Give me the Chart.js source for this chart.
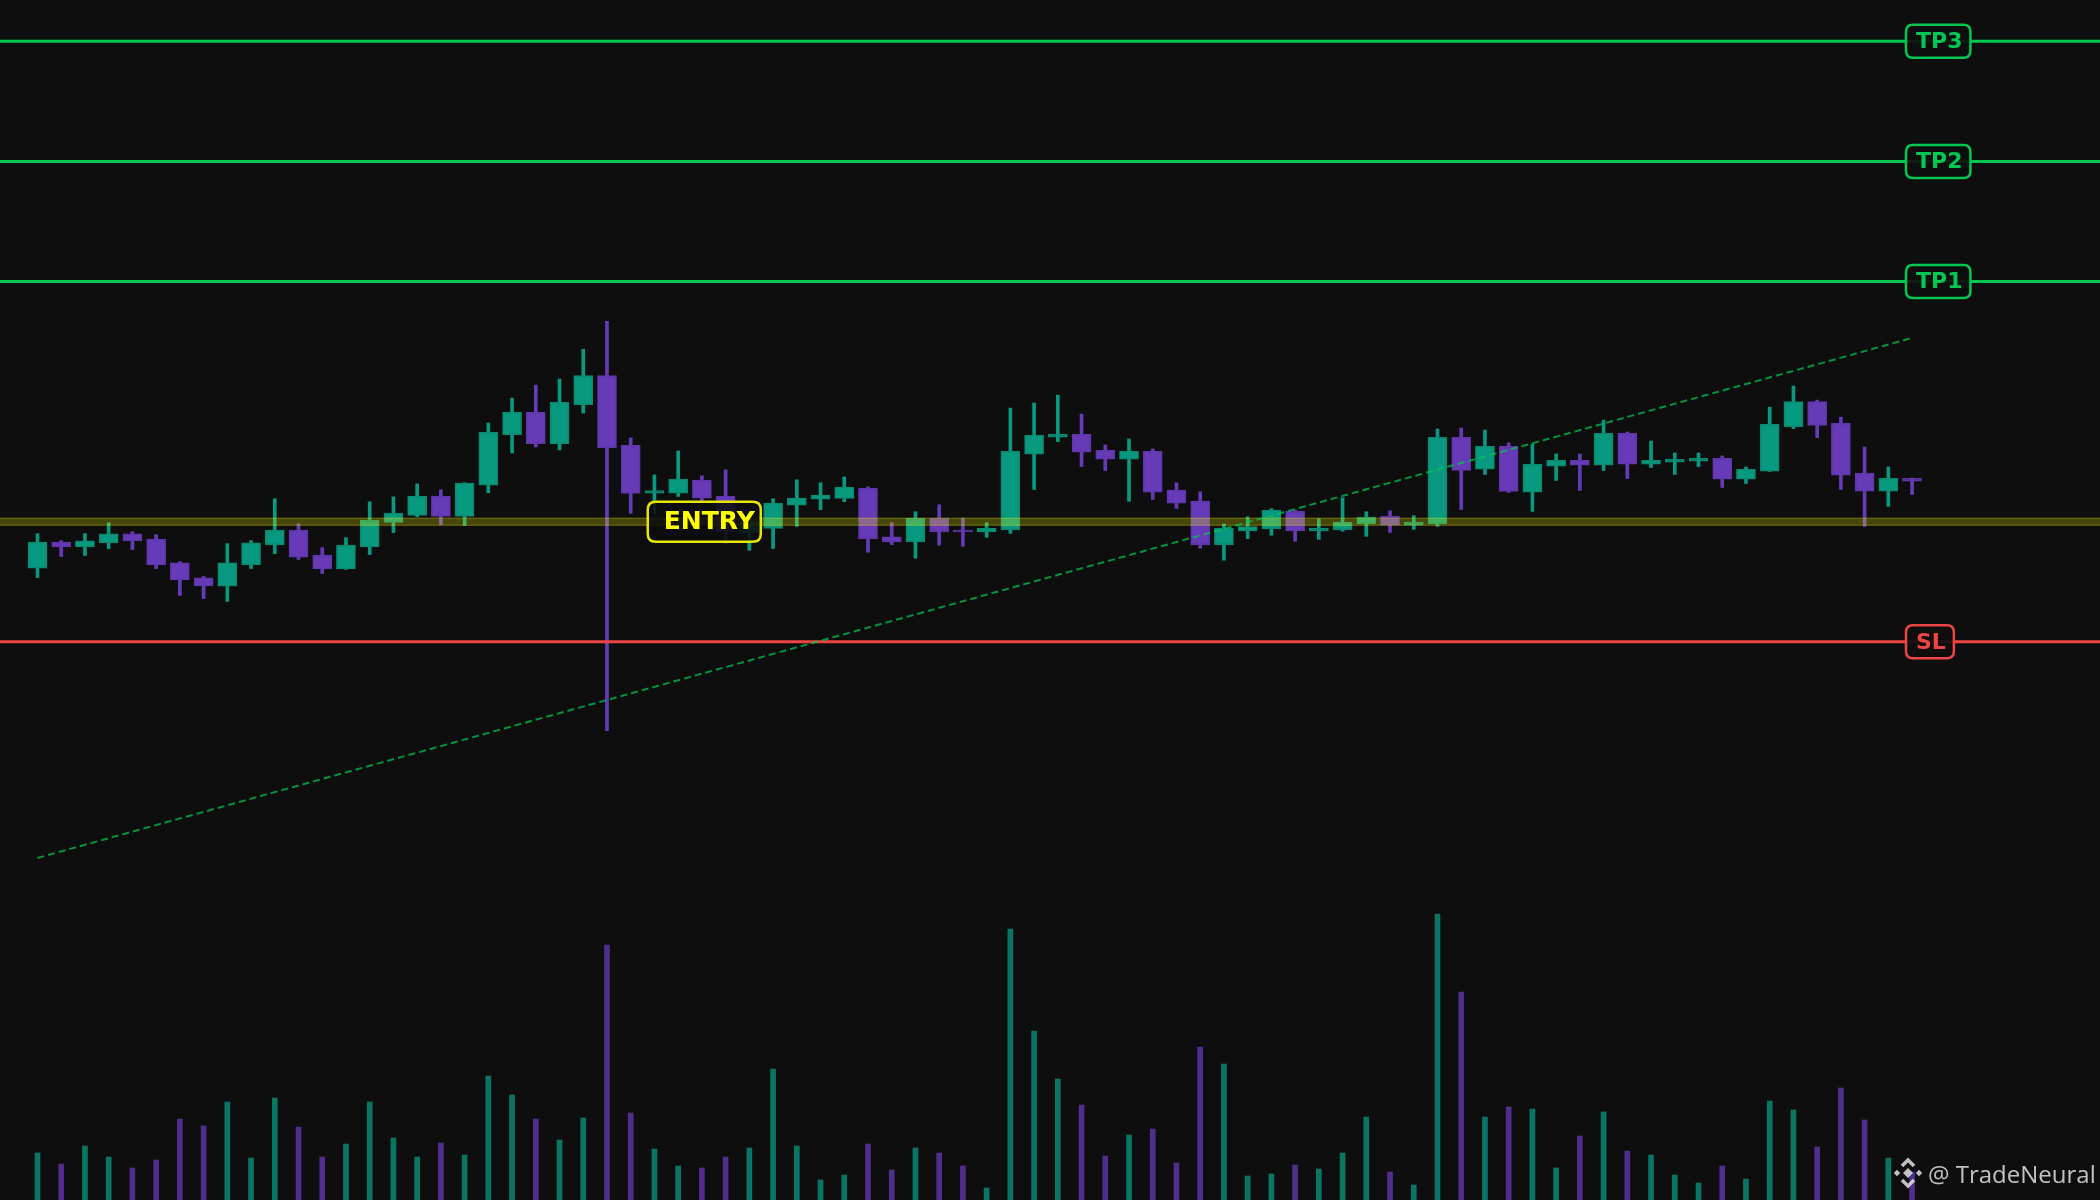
<!DOCTYPE html>
<html lang="en">
<head>
    <meta charset="UTF-8">
    <title>TradeNeural setup</title>
    <script src="https://cdn.jsdelivr.net/npm/chart.js"></script>
    <style>
        html, body { margin: 0; padding: 0; background: #0e0e0e; }
        canvas { display: block; }
    </style>
</head>
<body>
    <canvas id="grafico" width="2100" height="1200"></canvas>

    <script>
        // OHLC, one value per candle
        const opens  = [96.13, 98.31, 97.90, 98.23, 98.98, 98.56, 96.57, 95.33, 94.63, 96.40,
                        98.06, 99.31, 97.23, 96.07, 97.90, 99.94, 100.53, 102.13, 100.44, 103.04,
                        107.25, 109.10, 106.50, 109.74, 112.17, 106.36, 102.38, 102.38, 103.46, 102.13,
                        99.06, 99.45, 101.38, 101.88, 101.94, 102.79, 98.73, 98.31, 100.28, 99.31,
                        99.14, 99.31, 105.62, 107.03, 107.28, 105.95, 105.20, 105.86, 102.63, 101.72,
                        98.06, 99.23, 99.39, 100.89, 99.23, 99.31, 99.81, 100.47, 99.72, 99.81,
                        107.03, 104.37, 106.28, 102.46, 104.62, 105.12, 104.70, 107.36, 104.79, 104.95,
                        105.03, 105.28, 103.54, 104.20, 107.91, 110.01, 108.19, 104.04, 102.54, 103.62];
        const highs  = [99.00, 98.42, 99.00, 99.92, 99.17, 98.92, 96.68, 95.44, 98.17, 98.42,
                        101.91, 99.83, 97.84, 98.67, 101.66, 102.07, 103.15, 102.66, 103.25, 108.22,
                        110.29, 111.37, 111.87, 114.36, 116.68, 106.97, 103.90, 105.89, 103.82, 104.32,
                        100.44, 101.91, 103.49, 103.24, 103.73, 102.90, 99.92, 100.83, 101.41, 100.30,
                        99.92, 109.46, 109.88, 110.54, 108.96, 106.39, 106.89, 106.06, 103.24, 102.49,
                        99.81, 100.41, 101.08, 100.97, 100.25, 101.99, 100.83, 100.91, 100.50, 107.72,
                        107.80, 107.63, 106.56, 106.45, 105.64, 105.64, 108.46, 107.47, 106.72, 105.73,
                        105.73, 105.48, 104.56, 109.54, 111.29, 110.12, 108.71, 106.22, 104.56, 103.62];
        const lows   = [95.35, 97.10, 97.18, 97.76, 97.68, 96.10, 93.86, 93.61, 93.36, 96.10,
                        97.34, 96.85, 95.68, 96.02, 97.26, 99.09, 100.41, 99.75, 99.67, 102.41,
                        105.73, 106.22, 105.98, 109.05, 82.60, 100.69, 100.69, 102.10, 101.69, 98.23,
                        97.62, 97.76, 99.61, 101.00, 101.66, 97.46, 98.09, 96.96, 98.04, 97.95,
                        98.70, 99.03, 102.68, 106.67, 104.59, 104.26, 101.69, 101.85, 101.11, 97.79,
                        96.79, 98.59, 98.87, 98.37, 98.53, 99.20, 98.78, 99.11, 99.36, 99.61,
                        101.02, 103.93, 102.43, 100.86, 103.43, 102.60, 104.26, 103.60, 104.51, 103.93,
                        104.59, 102.85, 103.18, 104.18, 107.75, 107.00, 102.68, 99.61, 101.27, 102.27];
        const closes = [98.31, 97.90, 98.40, 98.98, 98.40, 96.40, 95.16, 94.66, 96.57, 98.23,
                        99.31, 97.04, 96.07, 98.06, 100.14, 100.72, 102.13, 100.44, 103.21, 107.44,
                        109.10, 106.50, 109.93, 112.17, 106.17, 102.35, 102.60, 103.54, 101.96, 99.20,
                        100.03, 101.55, 101.96, 102.21, 102.88, 98.56, 98.31, 100.28, 99.14, 99.14,
                        99.45, 105.86, 107.19, 107.28, 105.78, 105.20, 105.86, 102.46, 101.55, 98.06,
                        99.47, 99.59, 100.97, 99.23, 99.47, 99.97, 100.39, 99.72, 99.97, 107.03,
                        104.26, 106.28, 102.52, 104.79, 105.12, 104.70, 107.36, 104.79, 105.12, 105.20,
                        105.28, 103.54, 104.37, 108.11, 110.01, 108.02, 103.87, 102.54, 103.62, 103.37];
        const volumes = [47, 36, 54, 43, 32, 40, 81, 74, 98, 42,
                         102, 73, 43, 56, 98, 62, 43, 57, 45, 124,
                         105, 81, 60, 82, 255, 87, 51, 34, 32, 43,
                         52, 131, 54, 20, 25, 56, 30, 52, 47, 34,
                         12, 271, 169, 121, 95, 44, 65, 71, 37, 153,
                         136, 24, 26, 35, 31, 47, 83, 28, 15, 286,
                         208, 83, 93, 91, 32, 64, 88, 49, 45, 25,
                         17, 34, 21, 99, 90, 53, 112, 80, 42, 28];

        // niveles de la operación
        const levelNames  = ['TP3', 'TP2', 'TP1', 'SL'];
        const levelPrices = [140, 130, 120, 90];
        const entryPrice = 100;
        const entryLabel = 'ENTRY';
        const entryLabelAt = 28.1;        // candle the ENTRY tag sits on
        const trendX = [0, 79];
        const trendY = [72.0, 115.3];
        const watermark = '@ TradeNeural';

        const X_MIN = -1.58, X_MAX = 86.92;
        const UP = '#089981', DOWN = '#673ab7';
        const TP_COL = '#00c853', SL_COL = '#ef4444', ENTRY_COL = '#ffff00';

        const idx = opens.map((_, i) => i);
        const isUp = i => closes[i] >= opens[i];
        const candleCol = idx.map(i => isUp(i) ? UP : DOWN);
        const candleEdge = idx.map(i => isUp(i) ? '#0b8a72' : '#5f36ab');
        const volCol = idx.map(i => isUp(i) ? 'rgba(8,153,129,0.75)' : 'rgba(103,58,183,0.75)');

        const hLine = (price, color, width, order) => ({
            type: 'line',
            data: [{ x: X_MIN, y: price }, { x: X_MAX, y: price }],
            borderColor: color,
            borderWidth: width,
            pointRadius: 0,
            yAxisID: 'y',
            order: order
        });

        function roundBox(ctx, x, y, w, h, r) {
            ctx.beginPath();
            ctx.moveTo(x + r, y);
            ctx.lineTo(x + w - r, y);
            ctx.quadraticCurveTo(x + w, y, x + w, y + r);
            ctx.lineTo(x + w, y + h - r);
            ctx.quadraticCurveTo(x + w, y + h, x + w - r, y + h);
            ctx.lineTo(x + r, y + h);
            ctx.quadraticCurveTo(x, y + h, x, y + h - r);
            ctx.lineTo(x, y + r);
            ctx.quadraticCurveTo(x, y, x + r, y);
            ctx.closePath();
        }

        function diamond(ctx, cx, cy, s) {
            ctx.beginPath();
            ctx.moveTo(cx, cy - s);
            ctx.lineTo(cx + s, cy);
            ctx.lineTo(cx, cy + s);
            ctx.lineTo(cx - s, cy);
            ctx.closePath();
            ctx.fill();
        }

        // etiquetas TP/SL/ENTRY y marca de agua
        const tags = {
            id: 'tags',
            afterDatasetsDraw(chart) {
                const { ctx, chartArea, scales } = chart;
                const y = scales.y, x = scales.x;
                ctx.save();
                ctx.textAlign = 'center';
                ctx.textBaseline = 'middle';

                ctx.font = 'bold 22px "DejaVu Sans"';
                levelNames.forEach((name, k) => {
                    const py = y.getPixelForValue(levelPrices[k]);
                    const col = levelPrices[k] < entryPrice ? SL_COL : TP_COL;
                    const w = ctx.measureText(name).width + 18;
                    const left = chartArea.left + 1906;
                    roundBox(ctx, left, py - 16.5, w, 33, 7);
                    ctx.fillStyle = 'rgba(14,14,14,0.92)';
                    ctx.fill();
                    ctx.lineWidth = 2.5;
                    ctx.strokeStyle = col;
                    ctx.stroke();
                    ctx.fillStyle = col;
                    ctx.fillText(name, left + w / 2 + 1, py + 1);
                });

                ctx.font = 'bold 25px "DejaVu Sans"';
                const ey = y.getPixelForValue(entryPrice);
                const ecx = x.getPixelForValue(entryLabelAt);
                const ew = ctx.measureText(entryLabel).width + 22;
                roundBox(ctx, ecx - ew / 2, ey - 20, ew, 40, 8);
                ctx.fillStyle = 'rgba(14,14,14,0.88)';
                ctx.fill();
                ctx.lineWidth = 2.5;
                ctx.strokeStyle = '#e6e600';
                ctx.stroke();
                ctx.fillStyle = ENTRY_COL;
                ctx.fillText(entryLabel, ecx + 5, ey + 1);

                // marca de agua
                ctx.fillStyle = 'rgba(225,225,225,0.85)';
                ctx.strokeStyle = 'rgba(225,225,225,0.85)';
                const lx = chartArea.left + 1908, ly = chartArea.top + 1173;
                ctx.lineWidth = 3.5;
                ctx.beginPath();
                ctx.moveTo(lx - 6, ly - 7); ctx.lineTo(lx, ly - 13); ctx.lineTo(lx + 6, ly - 7);
                ctx.moveTo(lx - 6, ly + 7); ctx.lineTo(lx, ly + 13); ctx.lineTo(lx + 6, ly + 7);
                ctx.stroke();
                diamond(ctx, lx, ly, 5);
                diamond(ctx, lx - 11, ly, 3.2);
                diamond(ctx, lx + 11, ly, 3.2);
                ctx.font = '24px "Open Sans"';
                ctx.textAlign = 'left';
                ctx.textBaseline = 'alphabetic';
                ctx.fillText(watermark, chartArea.left + 1928, chartArea.top + 1183);
                ctx.restore();
            }
        };

        const datasets = [
            {
                label: 'Volumen',
                type: 'bar',
                yAxisID: 'yv',
                data: idx.map(i => ({ x: i, y: volumes[i] })),
                backgroundColor: volCol,
                barThickness: 5,
                grouped: false,
                order: 10
            },
            {
                label: 'Mechas',
                type: 'bar',
                yAxisID: 'y',
                data: idx.map(i => ({ x: i, y: [lows[i], highs[i]] })),
                backgroundColor: candleCol,
                barThickness: 3,
                grouped: false,
                order: 8
            },
            {
                label: 'Cuerpos',
                type: 'bar',
                yAxisID: 'y',
                data: idx.map(i => ({ x: i, y: [opens[i], closes[i]] })),
                backgroundColor: candleCol,
                borderColor: candleEdge,
                borderWidth: 1.5,
                borderSkipped: false,
                barThickness: 19,
                grouped: false,
                order: 7
            },
            // banda de entrada con bordes algo más claros
            hLine(entryPrice, 'rgba(255,255,0,0.24)', 8, 5),
            hLine(entryPrice + 0.29, 'rgba(255,255,0,0.16)', 1.5, 5),
            hLine(entryPrice - 0.29, 'rgba(255,255,0,0.16)', 1.5, 5),
            ...levelPrices.map(p => hLine(p, p < entryPrice ? SL_COL : TP_COL, 3, 4)),
            {
                label: 'Tendencia',
                type: 'line',
                yAxisID: 'y',
                data: trendX.map((v, k) => ({ x: v, y: trendY[k] })),
                borderColor: 'rgba(0,200,83,0.72)',
                borderWidth: 2,
                borderDash: [7, 4],
                pointRadius: 0,
                order: 3
            }
        ];

        const ctx = document.getElementById('grafico').getContext('2d');
        new Chart(ctx, {
            type: 'bar',
            data: { datasets: datasets },
            options: {
                responsive: false,
                animation: false,
                devicePixelRatio: 1,
                layout: { padding: 0 },
                plugins: { legend: { display: false }, tooltip: { enabled: false } },
                scales: {
                    x: { type: 'linear', min: X_MIN, max: X_MAX, offset: false, bounds: 'data', display: false },
                    y: { type: 'linear', axis: 'y', min: 43.52, max: 143.44, beginAtZero: false, bounds: 'data', display: false },
                    yv: { type: 'linear', axis: 'y', min: 0, max: 1200, bounds: 'data', display: false }
                }
            },
            plugins: [tags]
        });
    </script>
</body>
</html>
